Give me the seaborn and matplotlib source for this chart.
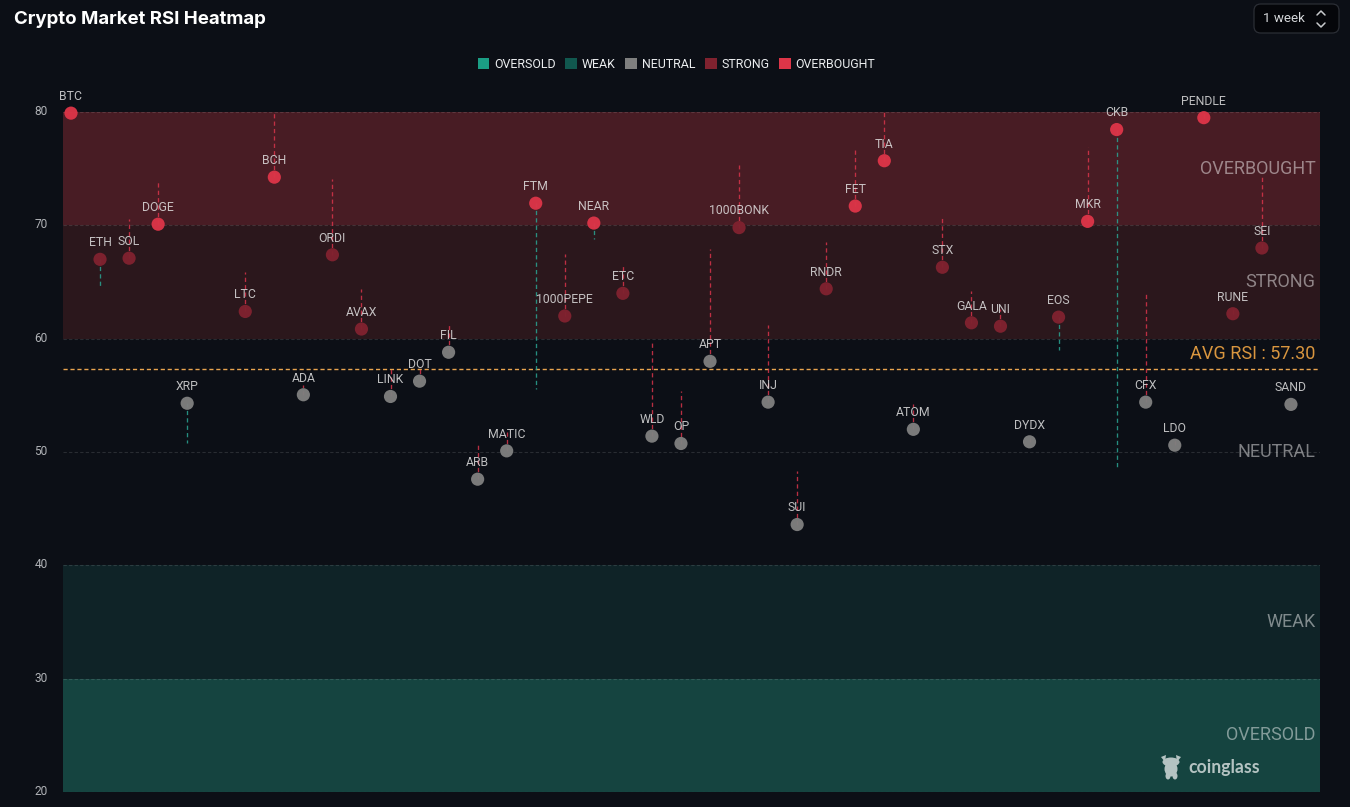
import numpy as np
import pandas as pd
import matplotlib.pyplot as plt
from matplotlib.lines import Line2D
from matplotlib.patches import Ellipse, FancyBboxPatch, Patch, Polygon
from matplotlib.transforms import ScaledTranslation
import seaborn as sns

# One slot (None) is empty in the chart, so the coins keep their spacing
coins = ["BTC", "ETH", "SOL", "DOGE", "XRP", None, "LTC", "BCH", "ADA", "ORDI", "AVAX",
         "LINK", "DOT", "FIL", "ARB", "MATIC", "FTM", "1000PEPE", "NEAR", "ETC", "WLD",
         "OP", "APT", "1000BONK", "INJ", "SUI", "RNDR", "FET", "TIA", "ATOM", "STX",
         "GALA", "UNI", "DYDX", "EOS", "MKR", "CKB", "CFX", "LDO", "PENDLE", "RUNE",
         "SEI", "SAND"]
rsi_now = [79.9, 67.0, 67.1, 70.1, 54.3, np.nan, 62.4, 74.25, 55.05, 67.4, 60.85,
           54.9, 56.25, 58.8, 47.6, 50.1, 71.95, 62.0, 70.2, 64.0, 51.4,
           50.75, 58.0, 69.8, 54.4, 43.6, 64.4, 71.7, 75.7, 52.0, 66.3,
           61.4, 61.1, 50.9, 61.9, 70.35, 78.45, 54.4, 50.6, 79.5, 62.2,
           68.0, 54.2]
rsi_prev = [79.9, 64.5, 70.6, 74.0, 50.8, np.nan, 65.9, 80.0, 55.9, 74.1, 64.4,
            57.3, 57.3, 61.3, 50.6, 52.0, 55.6, 67.5, 68.8, 66.6, 59.7,
            55.4, 67.9, 75.3, 61.2, 48.3, 68.5, 76.8, 80.0, 54.2, 70.7,
            64.2, 62.6, 51.3, 59.0, 76.9, 48.6, 64.1, 51.1, 80.0, 62.6,
            74.3, 54.3]

avg_rsi = 57.30
y_ticks = [20, 30, 40, 50, 60, 70, 80]
zone_names = ["OVERSOLD", "WEAK", "NEUTRAL", "STRONG", "OVERBOUGHT"]
zone_edges = [20, 30, 40, 60, 70, 80]
zone_fills = ["#154440", "#0f2327", None, "#2b171c", "#481c24"]
zone_marks = ["#1b9e85", "#11584f", "#7f7f7f", "#80222f", "#dd3548"]
zone_label_y = [25, 35, 50, 65, 75]

BG = "#0c0f16"
UP = "#d8344a"
DOWN = "#2aa593"
W, H = 1350, 807


def px(x, y):
    """Pixel of the reference -> figure coordinates."""
    return x / W, 1 - y / H


def get_zone(value):
    """Zone name for an RSI value."""
    for i, name in enumerate(zone_names):
        if value < zone_edges[i + 1]:
            return name
    return zone_names[-1]


def build_table():
    df = pd.DataFrame({"coin": coins, "rsi": rsi_now, "prev": rsi_prev})
    df["slot"] = df.index
    df = df.dropna().copy()
    df["zone"] = df["rsi"].apply(get_zone)
    return df


def draw_zones(ax):
    for i, name in enumerate(zone_names):
        if zone_fills[i]:
            ax.axhspan(zone_edges[i], zone_edges[i + 1], color=zone_fills[i], lw=0, zorder=0)
        ax.text(42.85, zone_label_y[i], name, ha="right", va="center", fontsize=13.0,
                color="#ffffff", alpha=0.47, zorder=2)
    for y in y_ticks:
        ax.axhline(y, color="#ffffff", alpha=0.12, lw=0.8, ls=(0, (3, 2)), zorder=1)
    ax.axhline(avg_rsi, color="#e9a44f", lw=1.0, ls=(0, (3, 2)), zorder=2)
    ax.text(42.85, avg_rsi + 0.55, f"AVG RSI : {avg_rsi:.2f}", ha="right", va="bottom",
            fontsize=13, color="#d9963f", zorder=2)


def draw_coins(ax, df):
    colors = [UP if p > r else DOWN for p, r in zip(df["prev"], df["rsi"])]
    ax.vlines(df["slot"], df["rsi"], df["prev"], colors=colors, lw=0.95,
              linestyles=(0, (3.2, 2.4)), alpha=0.85, zorder=2.5)
    sns.scatterplot(data=df, x="slot", y="rsi", hue="zone", hue_order=zone_names,
                    palette=dict(zip(zone_names, zone_marks)), s=90, linewidth=0, alpha=0.96,
                    legend=False, clip_on=False, zorder=3, ax=ax)
    for row in df.itertuples():
        ax.annotate(row.coin, (row.slot, row.rsi), xytext=(0, 12.0),
                    textcoords="offset points", ha="center", va="center", fontsize=8.8,
                    color="#e6e6e6", alpha=0.82, zorder=5, annotation_clip=False)


def draw_header(fig):
    x, y = px(14, 19)
    fig.text(x, y, "Crypto Market RSI Heatmap", ha="left", va="center", fontsize=13.45,
             fontweight="bold", family="Inter", color="#ffffff")

    x0, y0 = px(1254, 33)
    x1, y1 = px(1339, 4)
    fig.add_artist(FancyBboxPatch((x0, y0), x1 - x0, y1 - y0, transform=fig.transFigure,
                                  boxstyle="round,pad=0,rounding_size=0.005",
                                  mutation_aspect=W / H, fc="#05060a", ec="#2b2e35", lw=0.9))
    x, y = px(1263, 18)
    fig.text(x, y, "1 week", ha="left", va="center", fontsize=9.6, color="#d5d7da")
    # small up/down chevrons of the selector
    for pts in ([(1317, 15), (1321, 11), (1325, 15)], [(1317, 23), (1321, 27), (1325, 23)]):
        xs, ys = zip(*[px(a, b) for a, b in pts])
        fig.add_artist(Line2D(xs, ys, color="#c8cacd", lw=1.1, transform=fig.transFigure))

    handles = [Patch(fc=c, ec="none", label=n) for c, n in zip(zone_marks, zone_names)]
    x, y = px(676.5, 64)
    fig.legend(handles=handles, loc="center", bbox_to_anchor=(x, y), ncol=5, frameon=False,
               fontsize=8.95, handlelength=0.95, handleheight=0.95, handletextpad=0.4,
               columnspacing=0.75, labelcolor="#ebedef", borderpad=0)


def draw_logo(fig):
    """Watermark in the bottom right corner, the animal is only a rough blob."""
    color = "#b4c3c2"
    for cx, cy, w, h in [(1171, 762, 17, 9), (1171, 769, 13, 15), (1168, 776, 5, 7), (1175, 776, 5, 7)]:
        x, y = px(cx, cy)
        fig.add_artist(Ellipse((x, y), w / W, h / H, transform=fig.transFigure, fc=color, ec="none"))
    for pts in ([(1161, 757), (1166, 755), (1165, 762)], [(1181, 757), (1176, 755), (1177, 762)]):
        fig.add_artist(Polygon([px(a, b) for a, b in pts], transform=fig.transFigure, fc=color, ec="none"))
    x, y = px(1188, 767)
    fig.text(x, y, "coinglass", ha="left", va="center", fontsize=12.7, fontweight="bold",
             family="Lato", color=color)


def main():
    sns.set_theme(style="dark")
    plt.rcParams["font.family"] = ["Roboto", "DejaVu Sans"]

    fig = plt.figure(figsize=(W / 100, H / 100), dpi=100, facecolor=BG)
    ax = fig.add_axes([63 / W, 1 - 792 / H, (1320 - 63) / W, (792 - 112) / H], facecolor=BG)

    df = build_table()
    draw_zones(ax)
    draw_coins(ax, df)

    ax.set_xlim(-0.275, 43.0)
    ax.set_ylim(20, 80)
    ax.set_xticks([])
    ax.set_yticks(y_ticks)
    ax.set_xlabel("")
    ax.set_ylabel("")
    ax.tick_params(axis="y", length=0, pad=11, labelsize=8.6, labelcolor="#b0b2b6")
    # tick labels sit a little above their lines
    shift = ScaledTranslation(0, 2 / 100, fig.dpi_scale_trans)
    for label in ax.get_yticklabels():
        label.set_transform(label.get_transform() + shift)
    ax.grid(False)
    for spine in ax.spines.values():
        spine.set_visible(False)

    draw_header(fig)
    draw_logo(fig)
    fig.savefig("out.png", dpi=100, facecolor=BG)


if __name__ == "__main__":
    main()
